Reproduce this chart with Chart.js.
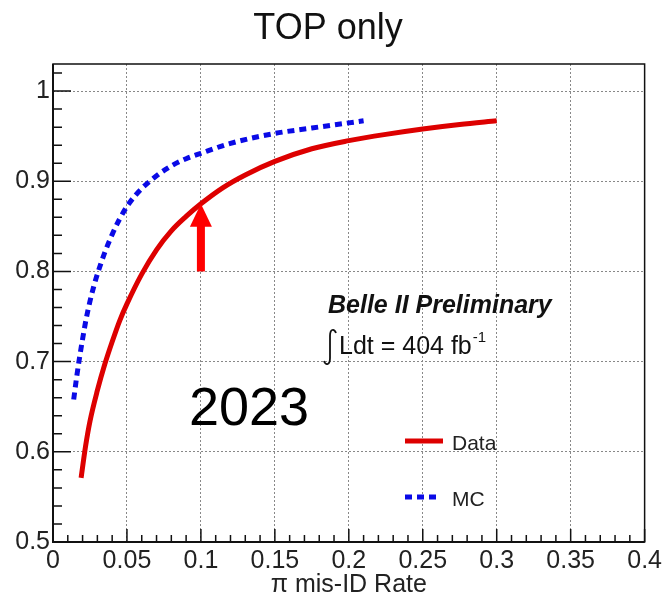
<!DOCTYPE html>
<html>
<head>
<meta charset="utf-8">
<script src="https://cdn.jsdelivr.net/npm/chart.js@4/dist/chart.umd.min.js"></script>
<style>
  html, body { margin: 0; padding: 0; background: #fff; }
</style>
</head>
<body>
<canvas id="pid" width="666" height="598"></canvas>
<script>
// kaon efficiency vs pion mis-ID rate, TOP detector only
const dataRate = [0.019, 0.022, 0.025, 0.03, 0.035, 0.04, 0.045, 0.05, 0.06, 0.07, 0.08, 0.09, 0.1, 0.115, 0.13, 0.15, 0.175, 0.2, 0.225, 0.25, 0.275, 0.3];
const dataEff  = [0.571, 0.606, 0.634, 0.668, 0.697, 0.722, 0.745, 0.764, 0.797, 0.824, 0.845, 0.861, 0.875, 0.893, 0.907, 0.922, 0.936, 0.945, 0.952, 0.958, 0.963, 0.967];

const mcRate = [0.014, 0.016, 0.018, 0.02, 0.0225, 0.025, 0.0275, 0.03, 0.035, 0.04, 0.045, 0.05, 0.055, 0.06, 0.07, 0.08, 0.09, 0.1, 0.12, 0.15, 0.175, 0.21];
const mcEff  = [0.658, 0.683, 0.705, 0.725, 0.748, 0.767, 0.783, 0.797, 0.821, 0.841, 0.858, 0.872, 0.883, 0.892, 0.906, 0.917, 0.925, 0.931, 0.942, 0.953, 0.959, 0.967];

// working point marked with the arrow
const arrowRate = 0.1;
const arrowBase = 0.8;

const toPoints = (xs, ys) => xs.map((v, i) => ({ x: v, y: ys[i] }));
const arrowTip = dataEff[dataRate.indexOf(arrowRate)];

const FONT = '"Liberation Sans", Arial, sans-serif';

const decorations = {
  id: 'decorations',
  afterDatasetsDraw(chart) {
    const { ctx, scales: { x, y } } = chart;
    const px = x.getPixelForValue(arrowRate);
    const yTip = y.getPixelForValue(arrowTip);
    const yBase = y.getPixelForValue(arrowBase);
    ctx.save();
    ctx.fillStyle = '#ff0000';
    ctx.fillRect(px - 4, yTip + 22, 8, yBase - yTip - 22);
    ctx.beginPath();
    ctx.moveTo(px, yTip);
    ctx.lineTo(px - 11, yTip + 23);
    ctx.lineTo(px + 11, yTip + 23);
    ctx.closePath();
    ctx.fill();
    ctx.restore();
  },
  afterDraw(chart) {
    const { ctx, chartArea: a, scales: { x, y } } = chart;
    ctx.save();

    // frame
    ctx.strokeStyle = '#111';
    ctx.lineWidth = 1.5;
    ctx.strokeRect(a.left, a.top, a.right - a.left, a.bottom - a.top);
    ctx.lineWidth = 2;
    ctx.beginPath();
    ctx.moveTo(a.left, a.top);
    ctx.lineTo(a.left, a.bottom);
    ctx.lineTo(a.right, a.bottom);
    ctx.stroke();

    // inward tick marks, minor every 0.01 / 0.02
    ctx.lineWidth = 1.5;
    ctx.beginPath();
    for (let i = 0; i <= 40; i++) {
      const px = x.getPixelForValue(i * 0.01);
      const len = i % 5 === 0 ? 13 : 7;
      ctx.moveTo(px, a.bottom);
      ctx.lineTo(px, a.bottom - len);
    }
    for (let i = 25; i <= 51; i++) {
      const py = y.getPixelForValue(i * 0.02);
      const len = i % 5 === 0 ? 18 : 9;
      ctx.moveTo(a.left, py);
      ctx.lineTo(a.left + len, py);
    }
    ctx.stroke();

    ctx.fillStyle = '#111';
    ctx.textBaseline = 'alphabetic';

    // title
    ctx.textAlign = 'center';
    ctx.font = '36px ' + FONT;
    ctx.fillText('TOP only', 328, 39);

    ctx.textAlign = 'left';
    ctx.font = 'italic bold 25px ' + FONT;
    ctx.fillText('Belle II Preliminary', 328, 313);

    // integral sign
    ctx.strokeStyle = '#111';
    ctx.lineWidth = 1.8;
    ctx.beginPath();
    ctx.moveTo(336, 333);
    ctx.bezierCurveTo(334, 328, 330, 329, 330, 336);
    ctx.lineTo(330, 358);
    ctx.bezierCurveTo(330, 365, 326, 366, 324, 361);
    ctx.stroke();

    ctx.font = '25px ' + FONT;
    const lumi = 'Ldt = 404 fb';
    ctx.fillText(lumi, 339, 354);
    const lumiEnd = 339 + ctx.measureText(lumi).width;
    ctx.font = '15px ' + FONT;
    ctx.fillText('-1', lumiEnd + 1, 342);

    ctx.fillStyle = '#000';
    ctx.font = '54px ' + FONT;
    ctx.fillText('2023', 189, 425);

    // legend
    const entries = [
      { ds: chart.data.datasets[0], y: 441 },
      { ds: chart.data.datasets[1], y: 497 }
    ];
    ctx.font = '21px ' + FONT;
    entries.forEach(e => {
      ctx.strokeStyle = e.ds.borderColor;
      ctx.lineWidth = e.ds.borderWidth;
      ctx.setLineDash(e.ds.borderDash || []);
      ctx.beginPath();
      ctx.moveTo(405, e.y);
      ctx.lineTo(e.ds.borderDash ? 438 : 443, e.y);
      ctx.stroke();
      ctx.setLineDash([]);
      ctx.fillStyle = '#222';
      ctx.fillText(e.ds.label, 452, e.y + 9);
    });

    ctx.restore();
  }
};

new Chart(document.getElementById('pid'), {
  type: 'line',
  data: {
    datasets: [{
      label: 'Data',
      data: toPoints(dataRate, dataEff),
      borderColor: '#dd0000',
      borderWidth: 5,
      pointRadius: 0,
      cubicInterpolationMode: 'monotone'
    }, {
      label: 'MC',
      data: toPoints(mcRate, mcEff),
      borderColor: '#0a0ae6',
      borderWidth: 5,
      borderDash: [7, 5],
      pointRadius: 0,
      cubicInterpolationMode: 'monotone'
    }]
  },
  options: {
    responsive: false,
    animation: false,
    layout: { padding: { top: 64, right: 18, left: 0, bottom: 0 } },
    plugins: {
      legend: { display: false },
      tooltip: { enabled: false }
    },
    scales: {
      x: {
        type: 'linear',
        min: 0,
        max: 0.4,
        afterFit: s => { s.height = 56; },
        grid: { color: '#888', lineWidth: 1, drawTicks: false },
        border: { display: false, dash: [2, 2] },
        ticks: {
          stepSize: 0.05,
          padding: 4,
          color: '#222',
          maxRotation: 0,
          font: { family: FONT, size: 25 },
          callback: v => String(+v.toFixed(3))
        },
        title: {
          display: true,
          text: '\u03C0 mis-ID Rate',
          color: '#222',
          padding: { top: 0, bottom: -2 },
          font: { family: FONT, size: 25 }
        }
      },
      y: {
        min: 0.5,
        max: 1.03,
        afterFit: s => { s.width = 53; },
        grid: { color: '#888', lineWidth: 1, drawTicks: false },
        border: { display: false, dash: [2, 2] },
        ticks: {
          stepSize: 0.1,
          includeBounds: false,
          padding: 3,
          color: '#222',
          font: { family: FONT, size: 25 },
          callback: v => String(+v.toFixed(2))
        }
      }
    }
  },
  plugins: [decorations]
});
</script>
</body>
</html>
